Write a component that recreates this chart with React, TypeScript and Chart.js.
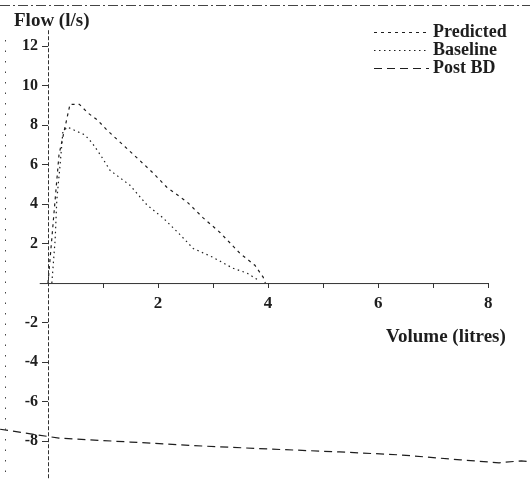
import { useEffect, useRef } from 'react';
import { Chart, registerables } from 'chart.js';

Chart.register(...registerables);

// Flow-volume data (volume in litres, flow in l/s)
const predictedVolume = [0, 0.2, 0.4, 0.57, 0.73, 0.9, 1.07, 1.4, 1.67, 1.9, 2.16, 2.53, 2.82, 3.13, 3.49, 3.76, 3.91, 3.95];
const predictedFlow = [0, 6.5, 9.05, 9.05, 8.6, 8.25, 7.75, 6.9, 6.2, 5.6, 4.85, 4.1, 3.3, 2.55, 1.5, 0.9, 0.3, 0];

const baselineVolume = [0.07, 0.13, 0.16, 0.22, 0.27, 0.35, 0.67, 0.8, 0.95, 1.13, 1.49, 1.8, 2.09, 2.4, 2.64, 3.0, 3.36, 3.62, 3.82];
const baselineFlow = [0, 2.2, 4.2, 6.0, 7.65, 7.9, 7.5, 7.1, 6.5, 5.7, 4.95, 3.95, 3.3, 2.45, 1.75, 1.3, 0.75, 0.5, 0.15];

const postBdVolume = [-0.87, 0.2, 1.5, 2.8, 4.0, 5.3, 6.4, 7.5, 8.2, 8.6, 8.76];
const postBdFlow = [-7.4, -7.85, -8.05, -8.25, -8.4, -8.55, -8.7, -8.95, -9.1, -9.0, -9.05];

const seriesNames = ['Predicted', 'Baseline', 'Post BD'];

const xTickValues = [1, 2, 3, 4, 5, 6, 7, 8];
const xTickLabels = ['', '2', '', '4', '', '6', '', '8'];
const yTickValues = [-8, -6, -4, -2, 2, 4, 6, 8, 10, 12];
const yTickLabels = ['-8', '-6', '-4', '-2', '2', '4', '6', '8', '10', '12'];

const xTitle = 'Volume (litres)';
const yTitle = 'Flow (l/s)';

export default function App() {
  const ref = useRef<HTMLCanvasElement>(null);

  useEffect(() => {
    document.body.style.margin = '0';
    const serif = "'Liberation Serif', 'DejaVu Serif', serif";
    const ink = '#1e1e1e';
    const dashes = [[3, 4], [1.5, 3.5], [8, 5]];
    const toPts = (xs: number[], ys: number[]) => xs.map((x, i) => ({ x, y: ys[i] }));

    const overlay = {
      id: 'overlay',
      afterDraw(chart: any) {
        const ctx = chart.ctx as CanvasRenderingContext2D;
        const xs = chart.scales.x;
        const ys = chart.scales.y;
        const x0 = xs.getPixelForValue(0);
        const y0 = ys.getPixelForValue(0);
        ctx.save();
        // axes lines
        ctx.strokeStyle = '#333';
        ctx.lineWidth = 1;
        ctx.setLineDash([]);
        ctx.beginPath();
        ctx.moveTo(xs.getPixelForValue(-0.15), y0 + 0.5);
        ctx.lineTo(xs.getPixelForValue(8), y0 + 0.5);
        ctx.stroke();
        ctx.setLineDash([4, 2]);
        ctx.beginPath();
        ctx.moveTo(x0 + 0.5, ys.getPixelForValue(12.8));
        ctx.lineTo(x0 + 0.5, chart.chartArea.bottom);
        ctx.stroke();
        // scan frame
        ctx.setLineDash([10, 3, 2, 3]);
        ctx.strokeStyle = '#444';
        ctx.beginPath();
        ctx.moveTo(0, 5.5);
        ctx.lineTo(530, 5.5);
        ctx.stroke();
        ctx.setLineDash([1.5, 9]);
        ctx.beginPath();
        ctx.moveTo(5.5, 40);
        ctx.lineTo(5.5, 479);
        ctx.stroke();
        // titles
        ctx.setLineDash([]);
        ctx.fillStyle = ink;
        ctx.textBaseline = 'middle';
        ctx.textAlign = 'left';
        ctx.font = `bold 19px ${serif}`;
        ctx.fillText(yTitle, 14, 21);
        ctx.fillText(xTitle, 386, 337);
        // legend
        ctx.font = `bold 18px ${serif}`;
        const rows = [32, 50, 68];
        seriesNames.forEach((name, i) => {
          ctx.strokeStyle = ink;
          ctx.lineWidth = 1.2;
          ctx.setLineDash(dashes[i]);
          ctx.beginPath();
          ctx.moveTo(374, rows[i] + 0.5);
          ctx.lineTo(429, rows[i] + 0.5);
          ctx.stroke();
          ctx.setLineDash([]);
          ctx.fillText(name, 433, rows[i]);
        });
        ctx.restore();
      },
    };

    const mk = (label: string, xs: number[], ys: number[], dash: number[]) => ({
      label,
      data: toPts(xs, ys),
      showLine: true,
      borderColor: ink,
      borderWidth: 1.2,
      borderDash: dash,
      pointRadius: 0,
      tension: 0,
      fill: false,
      clip: false as any,
    });

    const chart = new Chart(ref.current as HTMLCanvasElement, {
      type: 'scatter',
      data: {
        datasets: [
          mk(seriesNames[0], predictedVolume, predictedFlow, dashes[0]),
          mk(seriesNames[1], baselineVolume, baselineFlow, dashes[1]),
          mk(seriesNames[2], postBdVolume, postBdFlow, dashes[2]),
        ],
      },
      options: {
        animation: false,
        responsive: false,
        layout: { padding: 0 },
        plugins: { legend: { display: false }, tooltip: { enabled: false } },
        scales: {
          x: {
            type: 'linear',
            min: 0,
            max: 8.76,
            position: { y: 0 } as any,
            afterFit: (s: any) => { s.height = 0; s.paddingLeft = 0; s.paddingRight = 0; },
            afterBuildTicks: (s: any) => { s.ticks = xTickValues.map((v) => ({ value: v })); },
            ticks: {
              autoSkip: false,
              maxRotation: 0,
              padding: 5,
              color: ink,
              font: { family: serif, size: 17, weight: 'bold' },
              callback: (_v: any, i: number) => xTickLabels[i],
            },
            grid: { drawOnChartArea: false, drawTicks: true, tickLength: 5, color: '#333' },
            border: { display: false },
          },
          y: {
            type: 'linear',
            min: -9.92,
            max: 14.33,
            position: 'left',
            afterFit: (s: any) => { s.width = 48; s.paddingTop = 0; s.paddingBottom = 0; },
            afterBuildTicks: (s: any) => { s.ticks = yTickValues.map((v) => ({ value: v })); },
            ticks: {
              autoSkip: false,
              padding: 4,
              color: ink,
              font: { family: serif, size: 16, weight: 'bold' },
              callback: (_v: any, i: number) => yTickLabels[i],
            },
            grid: { drawOnChartArea: false, drawTicks: true, tickLength: 6, color: '#333' },
            border: { display: false },
          },
        },
      },
      plugins: [overlay],
    });
    return () => chart.destroy();
  }, []);

  return (
    <div style={{ width: 530, height: 479, position: 'relative', background: '#fff' }}>
      <canvas ref={ref} width={530} height={479} style={{ display: 'block' }} />
    </div>
  );
}
